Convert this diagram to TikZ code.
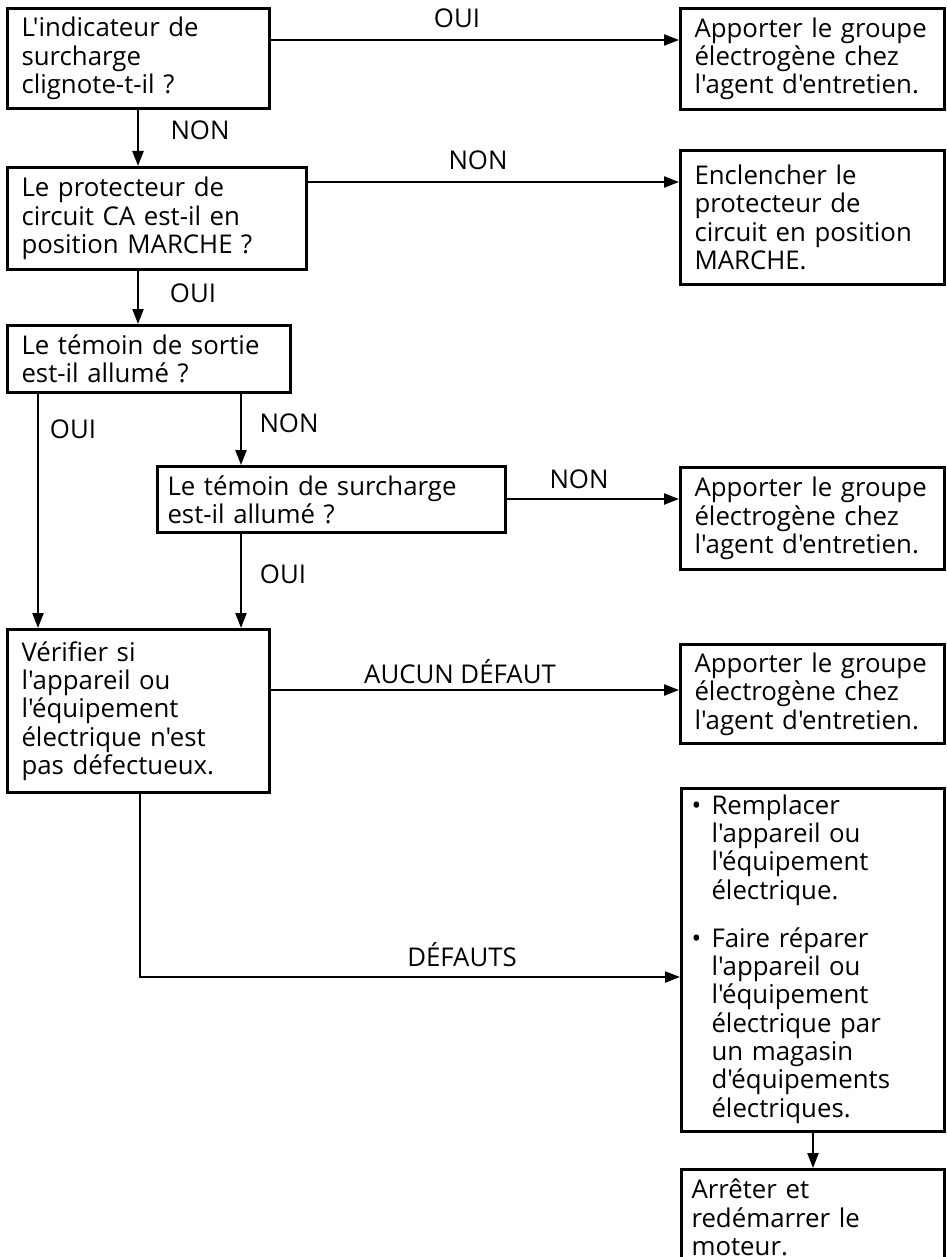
\documentclass[tikz,border=0pt]{standalone}
\usepackage{fontspec}
\usetikzlibrary{arrows.meta}
\newfontfamily\myfont{Open Sans}
\begin{document}
\begin{tikzpicture}[x=1pt,y=-1pt,
  every node/.style={font=\myfont\fontsize{25.8}{28.3}\selectfont},
  box/.style={draw, line width=3pt, anchor=north west, align=left,
    inner xsep=14pt, inner ysep=0pt},
  lbl/.style={anchor=base, inner sep=0pt},
  conn/.style={line width=2.3pt},
  arr/.style={conn, -{Triangle[length=15pt,width=11pt]}}]
\fill[white] (0,0) rectangle (946,1257);
\useasboundingbox (0,0) rectangle (946,1257);

\node[box, minimum width=262pt, minimum height=100pt, text width=234pt] (B1) at (6,7)
  {L'indicateur de\\surcharge\\clignote-t-il ?};
\node[box, minimum width=264pt, minimum height=101pt, text width=236pt] (A1) at (679,7)
  {Apporter le groupe\\électrogène chez\\l'agent d'entretien.};
\node[box, minimum width=299pt, minimum height=102pt, text width=271pt] (B2) at (6,166)
  {Le protecteur de\\circuit CA est-il en\\position MARCHE ?};
\node[box, minimum width=264pt, minimum height=134pt, text width=236pt] (A2) at (679,149)
  {Enclencher le\\protecteur de\\circuit en position\\MARCHE.};
\node[box, minimum width=283pt, minimum height=67pt, text width=255pt] (B3) at (6,324)
  {Le témoin de sortie\\est-il allumé ?};
\node[box, minimum width=348pt, minimum height=66pt, text width=328pt, inner xsep=10pt] (B4) at (156,465)
  {Le témoin de surcharge\\est-il allumé ?};
\node[box, minimum width=264pt, minimum height=102pt, text width=236pt] (A3) at (679,466)
  {Apporter le groupe\\électrogène chez\\l'agent d'entretien.};
\node[box, minimum width=262pt, minimum height=163pt, text width=234pt] (B5) at (6,628)
  {Vérifier si\\l'appareil ou\\l'équipement\\électrique n'est\\pas défectueux.};
\node[box, minimum width=264pt, minimum height=99pt, text width=236pt] (A4) at (679,643)
  {Apporter le groupe\\électrogène chez\\l'agent d'entretien.};
\node[box, minimum width=263pt, minimum height=343pt, text width=243pt, inner xsep=10pt] (A5) at (680,787)
  {\begin{tabular}{@{}p{20pt}@{}l@{}}
   \textbullet & Remplacer\\
   & l'appareil ou\\
   & l'équipement\\
   & électrique.\\[20pt]
   \textbullet & Faire réparer\\
   & l'appareil ou\\
   & l'équipement\\
   & électrique par\\
   & un magasin\\
   & d'équipements\\
   & électriques.
   \end{tabular}};
\node[box, minimum width=263pt, minimum height=96pt, text width=243pt, inner xsep=10pt] (A6) at (680,1168)
  {Arrêter et\\redémarrer le\\moteur.};

% connectors
\draw[arr] (B1.east |- 0,40) -- (A1.west |- 0,40);
\node[lbl] (l1) at (457,28) {OUI};
\draw[arr] (B1.south -| 138,0) -- (B2.north -| 138,0);
\node[lbl] (l2) at (200,140) {NON};
\draw[arr] (B2.east |- 0,182) -- (A2.west |- 0,182);
\node[lbl] (l3) at (478,170) {NON};
\draw[arr] (B2.south -| 138,0) -- (B3.north -| 138,0);
\node[lbl] (l4) at (193,302) {OUI};
\draw[arr] (B3.south -| 38,0) -- (B5.north -| 38,0);
\node[lbl] (l5) at (73,438) {OUI};
\draw[arr] (B3.south -| 241,0) -- (B4.north -| 241,0);
\node[lbl] (l6) at (289,432) {NON};
\draw[arr] (B4.east |- 0,499) -- (A3.west |- 0,499);
\node[lbl] (l7) at (579,488) {NON};
\draw[arr] (B4.south -| 241,0) -- (B5.north -| 241,0);
\node[lbl] (l8) at (283,583) {OUI};
\draw[arr] (B5.east |- 0,690) -- (A4.west |- 0,690);
\node[lbl] (l9) at (460,683) {AUCUN DÉFAUT};
\coordinate (c1) at (140,977);
\draw[arr] (B5.south -| c1) -- (c1) -- (A5.west |- c1);
\node[lbl] (l10) at (462,966) {DÉFAUTS};
\draw[arr] (A5.south -| 813,0) -- (A6.north -| 813,0);
\end{tikzpicture}
\end{document}
